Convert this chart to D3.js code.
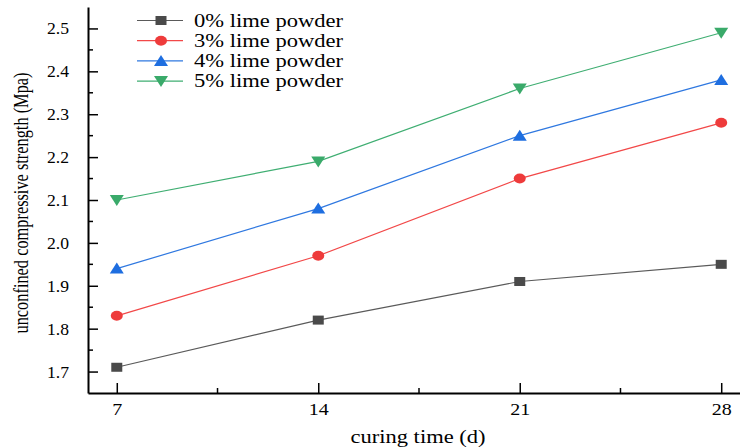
<!DOCTYPE html>
<html>
<head>
<meta charset="utf-8">
<script src="https://cdn.jsdelivr.net/npm/d3@7/dist/d3.min.js"></script>
<style>
  body { margin: 0; background: #fff; }
  text { font-family: "Liberation Serif", "Times New Roman", serif; fill: #000; }
</style>
</head>
<body>
<script>
var W = 740, H = 448;

var days = [7, 14, 21, 28];
var seriesNames = ['0% lime powder', '3% lime powder', '4% lime powder', '5% lime powder'];
var lime0 = [1.71, 1.82, 1.91, 1.95];
var lime3 = [1.83, 1.97, 2.15, 2.28];
var lime4 = [1.94, 2.08, 2.25, 2.38];
var lime5 = [2.10, 2.19, 2.36, 2.49];
var yTicks = [1.7, 1.8, 1.9, 2.0, 2.1, 2.2, 2.3, 2.4, 2.5];

var lineColours = ['#5a5a5a', '#f24848', '#2f78e0', '#3fae72'];
var markColours = ['#4a4a4a', '#ee3b3b', '#1e6ee0', '#3aaa6a'];
var shapes = ['square', 'circle', 'up', 'down'];

var allSeries = [lime0, lime3, lime4, lime5];

var svg = d3.select('body').append('svg')
  .attr('width', W).attr('height', H);

var x = d3.scaleLinear().domain([6, 29]).range([88, 750]);
var y = d3.scaleLinear().domain([1.65, 2.55]).range([393, 7]);

// axes
var xAxis = d3.axisBottom(x).tickValues(days).tickFormat(d3.format('d'))
  .tickSizeInner(-10).tickSizeOuter(0).tickPadding(10);
var gx = svg.append('g').attr('transform', 'translate(0,393)').call(xAxis);
gx.selectAll('.tick line').attr('stroke-width', 1.5);
gx.append('g').selectAll('line').data([10.5, 17.5, 24.5]).join('line')
  .attr('x1', function(d) { return x(d); }).attr('x2', function(d) { return x(d); })
  .attr('y1', 0).attr('y2', -5).attr('stroke', '#000').attr('stroke-width', 1.5);

var yAxis = d3.axisLeft(y).tickValues(yTicks).tickFormat(d3.format('.1f'))
  .tickSizeInner(-10).tickSizeOuter(0).tickPadding(19);
var gy = svg.append('g').attr('transform', 'translate(88,0)').call(yAxis);
gy.selectAll('.tick line').attr('stroke-width', 1.5);
var minorY = d3.range(1.75, 2.5, 0.1);
gy.append('g').selectAll('line').data(minorY).join('line')
  .attr('y1', function(d) { return y(d); }).attr('y2', function(d) { return y(d); })
  .attr('x1', 0).attr('x2', 5).attr('stroke', '#000').attr('stroke-width', 1.5);

[gx, gy].forEach(function(g) {
  g.select('.domain').attr('stroke-width', 2);
  g.selectAll('.tick text').style('font-size', '17px')
    .style('font-family', '"Liberation Serif", serif').attr('fill', '#000');
});
gx.selectAll('.tick text').attr('textLength', function(d) { return String(d).length * 10; })
  .attr('lengthAdjust', 'spacingAndGlyphs');
gy.selectAll('.tick text').attr('textLength', 22).attr('lengthAdjust', 'spacingAndGlyphs');

// titles
svg.append('text').attr('x', 418).attr('y', 443)
  .attr('text-anchor', 'middle').style('font-size', '18px')
  .attr('textLength', 135).attr('lengthAdjust', 'spacingAndGlyphs')
  .text('curing time (d)');

svg.append('text').attr('transform', 'translate(28,203) scale(1.25,1) rotate(-90)')
  .attr('text-anchor', 'middle').style('font-size', '16px')
  .attr('textLength', 261).attr('lengthAdjust', 'spacingAndGlyphs')
  .text('unconfined compressive strength (Mpa)');

function drawMark(g, shape, colour) {
  if (shape === 'square') {
    g.append('rect').attr('x', -5.5).attr('y', -4.5).attr('width', 11).attr('height', 9).attr('fill', colour);
  } else if (shape === 'circle') {
    g.append('ellipse').attr('rx', 6).attr('ry', 5).attr('fill', colour);
  } else if (shape === 'up') {
    g.append('path').attr('d', 'M0,-6L7,5L-7,5Z').attr('fill', colour);
  } else {
    g.append('path').attr('d', 'M0,6L7,-5L-7,-5Z').attr('fill', colour);
  }
}

var line = d3.line()
  .x(function(d, i) { return x(days[i]); })
  .y(function(d) { return y(d); });

allSeries.forEach(function(vals, s) {
  svg.append('path').datum(vals).attr('d', line)
    .attr('fill', 'none').attr('stroke', lineColours[s]).attr('stroke-width', 1.2);
  vals.forEach(function(v, i) {
    var g = svg.append('g').attr('transform', 'translate(' + x(days[i]) + ',' + y(v) + ')');
    drawMark(g, shapes[s], markColours[s]);
  });
});

// legend
seriesNames.forEach(function(name, s) {
  var ly = 20.5 + s * 20.2;
  svg.append('line').attr('x1', 137).attr('x2', 183).attr('y1', ly).attr('y2', ly)
    .attr('stroke', lineColours[s]).attr('stroke-width', 1.2);
  var g = svg.append('g').attr('transform', 'translate(161,' + ly + ')');
  drawMark(g, shapes[s], markColours[s]);
  svg.append('text').attr('x', 194).attr('y', ly + 6)
    .style('font-size', '18px')
    .attr('textLength', 149).attr('lengthAdjust', 'spacingAndGlyphs')
    .text(name);
});
</script>
</body>
</html>
